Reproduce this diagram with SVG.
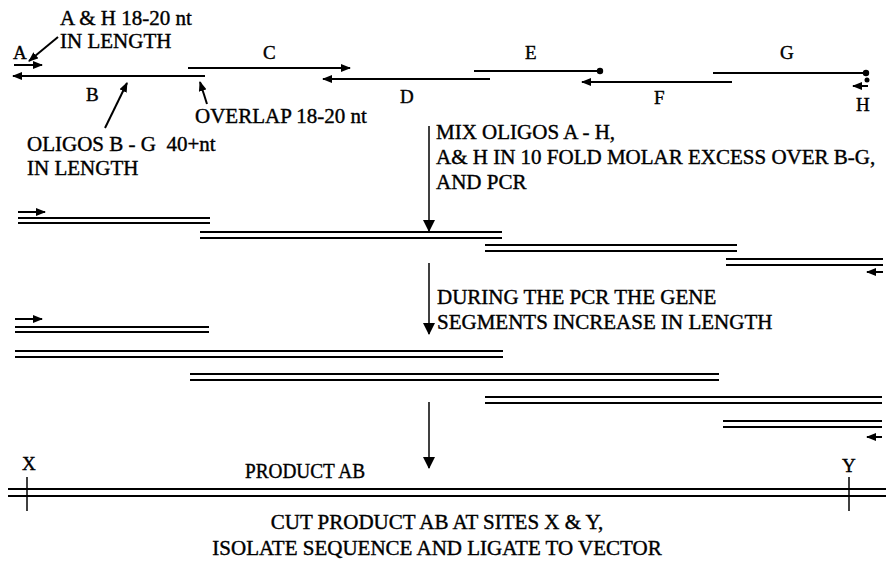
<svg xmlns="http://www.w3.org/2000/svg" width="888" height="566" viewBox="0 0 888 566">
<style>
  .t { font-family: "Liberation Serif", "Times New Roman", serif; font-size: 21px; fill: #000; stroke: #000; stroke-width: 0.4; }
  .lb { font-family: "Liberation Serif", "Times New Roman", serif; font-size: 19px; fill: #000; stroke: #000; stroke-width: 0.4; }
  .s { stroke: #000; stroke-width: 2; fill: none; }
  .d { stroke: #000; stroke-width: 2; fill: none; }
  .p { stroke: #000; stroke-width: 2; fill: none; }
  .v { stroke: #000; stroke-width: 1.5; fill: none; }
</style>
<defs>
  <marker id="ah" markerUnits="userSpaceOnUse" markerWidth="10" markerHeight="8" refX="9" refY="4" orient="auto">
    <path d="M0,0 L10,4 L0,8 z" fill="#000"/>
  </marker>
  <marker id="dot" markerUnits="userSpaceOnUse" markerWidth="8" markerHeight="8" refX="4" refY="4" orient="auto">
    <circle cx="4" cy="4" r="3.2" fill="#000"/>
  </marker>
  <marker id="big" markerUnits="userSpaceOnUse" markerWidth="12" markerHeight="16" refX="11" refY="6" orient="auto">
    <path d="M0,0 L12,6 L0,12 z" fill="#000"/>
  </marker>
</defs>

<!-- top row oligos -->
<g id="oligo-A">
  <line class="s" x1="14" y1="65" x2="42" y2="65" marker-end="url(#ah)"/>
  <text class="lb" x="13" y="59">A</text>
</g>
<g id="oligo-B">
  <line class="s" x1="205" y1="76" x2="13" y2="76" marker-end="url(#ah)"/>
  <text class="lb" x="86" y="101">B</text>
</g>
<g id="oligo-C">
  <line class="s" x1="188" y1="68" x2="350" y2="68" marker-end="url(#ah)"/>
  <text class="lb" x="263" y="59">C</text>
</g>
<g id="oligo-D">
  <line class="s" x1="490" y1="79" x2="323" y2="79" marker-end="url(#ah)"/>
  <text class="lb" x="400" y="103">D</text>
</g>
<g id="oligo-E">
  <line class="s" x1="474" y1="71" x2="600" y2="71" marker-end="url(#dot)"/>
  <text class="lb" x="525" y="59">E</text>
</g>
<g id="oligo-F">
  <line class="s" x1="732" y1="82" x2="582" y2="82" marker-end="url(#ah)"/>
  <text class="lb" x="654" y="104">F</text>
</g>
<g id="oligo-G">
  <line class="s" x1="713" y1="73" x2="866" y2="73" marker-end="url(#dot)"/>
  <text class="lb" x="780" y="59">G</text>
</g>
<g id="oligo-H">
  <circle cx="867" cy="80" r="2.5" fill="#000"/>
  <line class="s" x1="868" y1="86" x2="853" y2="86" marker-end="url(#ah)"/>
  <text class="lb" x="856" y="111">H</text>
</g>

<!-- annotations -->
<g id="note-AH">
  <text class="t" x="60" y="25">A &amp; H 18-20 nt</text>
  <text class="t" x="60" y="48">IN LENGTH</text>
</g>
<g id="note-BG">
  <text class="t" x="27" y="151" xml:space="preserve">OLIGOS B - G  40+nt</text>
  <text class="t" x="27" y="175">IN LENGTH</text>
</g>
<g id="note-overlap">
  <text class="t" x="195" y="123">OVERLAP 18-20 nt</text>
</g>
<g id="note-mix">
  <text class="t" x="436" y="139">MIX OLIGOS A - H,</text>
  <text class="t" x="436" y="164">A&amp; H IN 10 FOLD MOLAR EXCESS OVER B-G,</text>
  <text class="t" x="436" y="189">AND PCR</text>
</g>
<g id="note-during">
  <text class="t" x="437" y="304">DURING THE PCR THE GENE</text>
  <text class="t" x="437" y="329">SEGMENTS INCREASE IN LENGTH</text>
</g>

<!-- stage 1 -->
<g id="stage1">
  <line class="s" x1="18" y1="212" x2="45" y2="212" marker-end="url(#ah)"/>
  <line class="d" x1="18" y1="218" x2="210" y2="218"/>
  <line class="d" x1="18" y1="223" x2="210" y2="223"/>
  <line class="d" x1="200" y1="232" x2="502" y2="232"/>
  <line class="d" x1="200" y1="238" x2="502" y2="238"/>
  <line class="d" x1="485" y1="245" x2="737" y2="245"/>
  <line class="d" x1="485" y1="251" x2="737" y2="251"/>
  <line class="d" x1="726" y1="259" x2="883" y2="259"/>
  <line class="d" x1="726" y1="265" x2="883" y2="265"/>
  <line class="s" x1="883" y1="272" x2="867" y2="272" marker-end="url(#ah)"/>
</g>

<!-- stage 2 -->
<g id="stage2">
  <line class="s" x1="15" y1="319" x2="42" y2="319" marker-end="url(#ah)"/>
  <line class="d" x1="15" y1="327" x2="209" y2="327"/>
  <line class="d" x1="15" y1="332" x2="209" y2="332"/>
  <line class="d" x1="15" y1="351" x2="503" y2="351"/>
  <line class="d" x1="15" y1="357" x2="503" y2="357"/>
  <line class="d" x1="190" y1="374" x2="719" y2="374"/>
  <line class="d" x1="190" y1="380" x2="719" y2="380"/>
  <line class="d" x1="485" y1="397" x2="882" y2="397"/>
  <line class="d" x1="485" y1="403" x2="882" y2="403"/>
  <line class="d" x1="723" y1="421" x2="882" y2="421"/>
  <line class="d" x1="723" y1="427" x2="882" y2="427"/>
  <line class="s" x1="882" y1="437" x2="867" y2="437" marker-end="url(#ah)"/>
</g>

<!-- product -->
<g id="product">
  <line class="d" x1="8" y1="489" x2="886" y2="489"/>
  <line class="d" x1="8" y1="496" x2="886" y2="496"/>
  <line class="v" x1="27" y1="477" x2="27" y2="511"/>
  <line class="v" x1="849" y1="477" x2="849" y2="511"/>
  <text class="lb" x="22" y="470">X</text>
  <text class="lb" x="842" y="472">Y</text>
  <text class="t" x="245" y="478" font-size="20" textLength="120" lengthAdjust="spacingAndGlyphs">PRODUCT AB</text>
  <text class="t" x="437" y="529" font-size="22" text-anchor="middle">CUT PRODUCT AB AT SITES X &amp; Y,</text>
  <text class="t" x="437" y="555" font-size="22" text-anchor="middle">ISOLATE SEQUENCE AND LIGATE TO VECTOR</text>
</g>

<!-- connectors -->
<g id="connectors">
  <line class="p" x1="58" y1="37" x2="29" y2="61" marker-end="url(#ah)"/>
  <line class="p" x1="105" y1="128" x2="127" y2="83" marker-end="url(#ah)"/>
  <line class="p" x1="207" y1="104" x2="200" y2="82" marker-end="url(#ah)"/>
  <line class="v" x1="429" y1="126" x2="429" y2="231" marker-end="url(#big)"/>
  <line class="v" x1="429" y1="263" x2="429" y2="334" marker-end="url(#big)"/>
  <line class="v" x1="429" y1="402" x2="429" y2="468" marker-end="url(#big)"/>
</g>
</svg>
